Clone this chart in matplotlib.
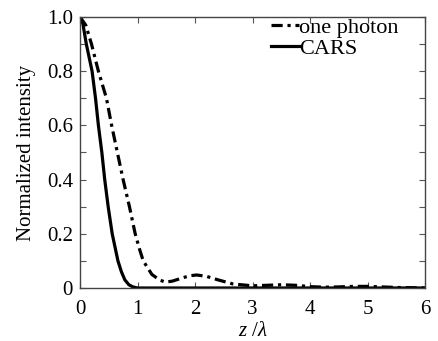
import matplotlib
matplotlib.use("Agg")
import matplotlib.pyplot as plt
from matplotlib.ticker import MultipleLocator

plt.rcParams['font.family'] = ['Liberation Serif', 'DejaVu Serif']
plt.rcParams['mathtext.fontset'] = 'custom'
plt.rcParams['mathtext.it'] = 'Liberation Serif:italic'
plt.rcParams['mathtext.rm'] = 'Liberation Serif'

# values
z_one = [0, 0.1, 0.2, 0.32, 0.46, 0.55, 0.65, 0.75, 0.86, 0.96, 1.04, 1.1, 1.25,
         1.38, 1.48, 1.6, 1.75, 1.9, 2.03, 2.2, 2.4, 2.66, 3.0, 3.25, 3.5, 3.75,
         4.0, 4.25, 4.5, 4.75, 5.0, 5.25, 5.5, 6.0]
i_one = [1.0, 0.97, 0.9, 0.8, 0.7, 0.6, 0.5, 0.4, 0.3, 0.2, 0.14, 0.1, 0.05,
         0.03, 0.022, 0.025, 0.035, 0.045, 0.048, 0.043, 0.03, 0.015, 0.008, 0.01,
         0.012, 0.01, 0.005, 0.003, 0.004, 0.006, 0.006, 0.004, 0.002, 0.0]

z_cars = [0, 0.05, 0.11, 0.16, 0.21, 0.27, 0.32, 0.38, 0.43, 0.49, 0.56, 0.66,
          0.72, 0.78, 0.85, 0.92, 1.0, 1.2, 2, 3, 4, 5, 6]
i_cars = [1.0, 0.975, 0.9, 0.85, 0.8, 0.7, 0.6, 0.5, 0.4, 0.3, 0.2, 0.1,
          0.06, 0.03, 0.012, 0.004, 0.0, 0, 0, 0, 0, 0, 0]

fig = plt.figure(figsize=(4.38, 3.41), dpi=100)
ax = fig.add_axes([80/438, 1-288/341, 345/438, 271/341])

ax.plot(z_one, i_one, color='black', lw=2.3, dashes=(3.5, 1.5, 1, 1.5), label='one photon')
ax.plot(z_cars, i_cars, color='black', lw=2.3, label='CARS')

ax.set_xlim(0, 6)
ax.set_ylim(0, 1.0)
ax.set_xticks([0, 1, 2, 3, 4, 5, 6])
ax.set_yticks([0, 0.2, 0.4, 0.6, 0.8, 1.0])
ax.set_yticklabels(['0', '0.2', '0.4', '0.6', '0.8', '1.0'])
ax.yaxis.set_minor_locator(MultipleLocator(0.1))
ax.tick_params(direction='in', which='both', top=True, right=True,
               labelsize=15, length=4, width=0.8, color='#555555', pad=5)
ax.tick_params(axis='x', pad=9)
for s in ax.spines.values():
    s.set_color('#444444')
    s.set_linewidth(1.0)

ax.set_xlabel(r'$z\ /\lambda$', fontsize=15, labelpad=2)
ax.set_ylabel('Normalized intensity', fontsize=15, labelpad=8)

ax.legend(loc='upper left', bbox_to_anchor=(0.555, 1.0), frameon=False,
          fontsize=16, handlelength=1.25, handletextpad=0.0, borderpad=0,
          borderaxespad=0, labelspacing=0.05)

fig.savefig('out.png', dpi=100)
